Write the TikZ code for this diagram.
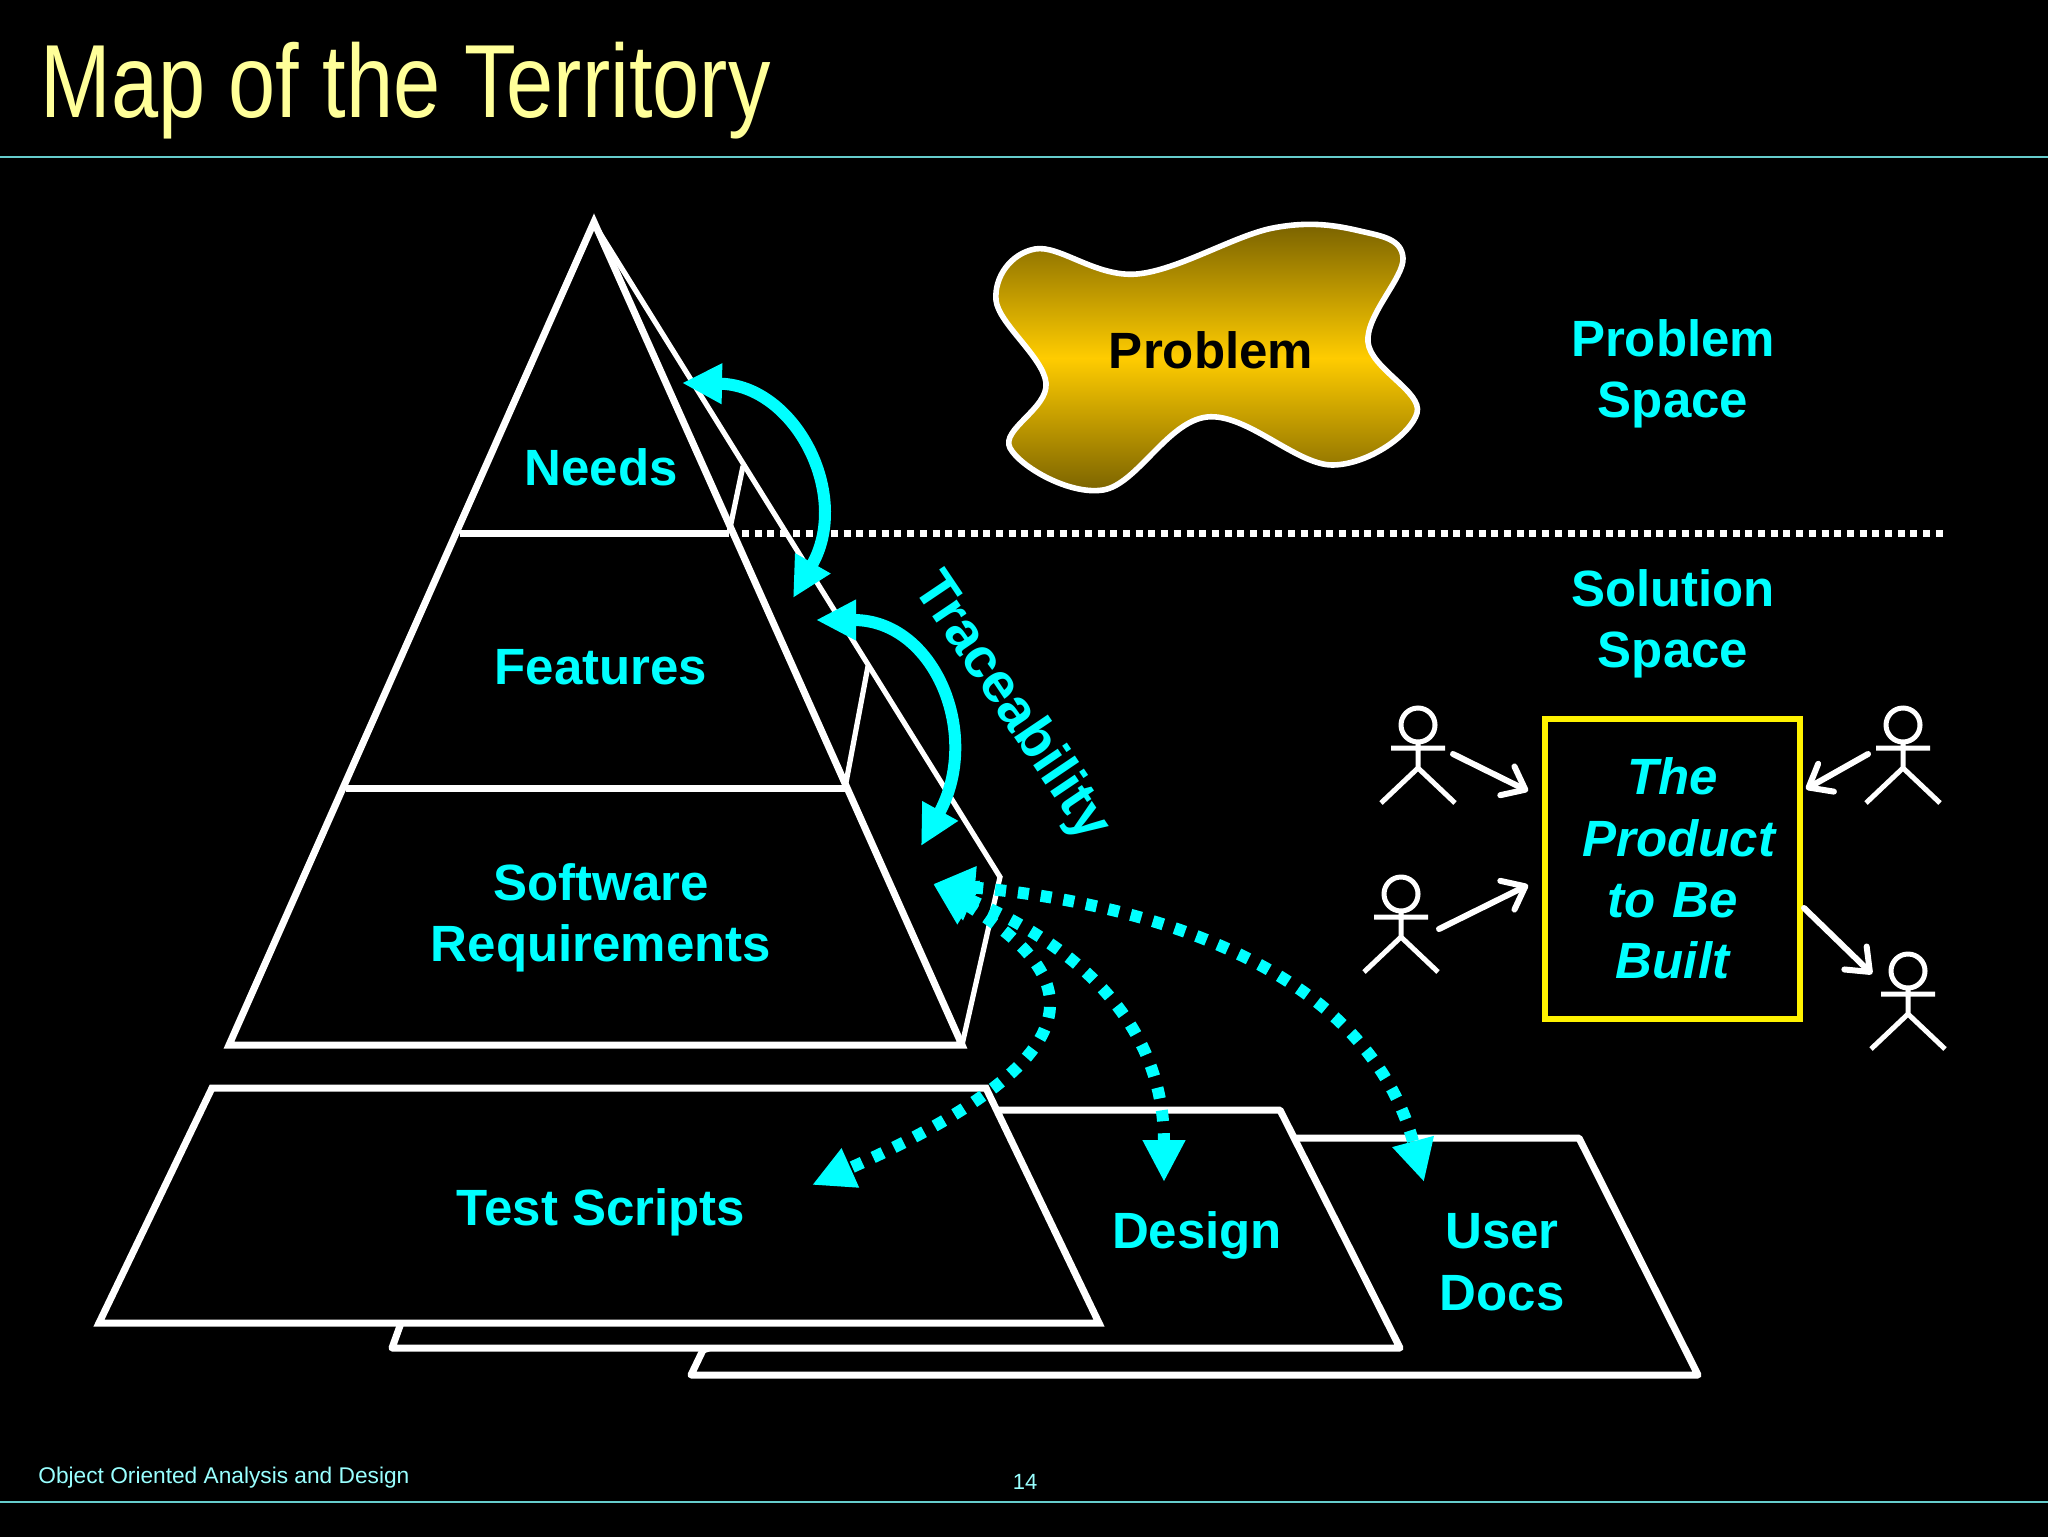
\documentclass[tikz,border=0pt]{standalone}
\usepackage{fontspec}
\setmainfont{Liberation Sans}
\newfontfamily\titlefont[FakeStretch=0.815]{Liberation Sans}
\usetikzlibrary{arrows.meta}
\definecolor{cy}{HTML}{00FFFF}
\definecolor{ttl}{HTML}{FFFF99}
\definecolor{rulec}{HTML}{66CCCC}
\definecolor{foot}{HTML}{99FFFF}
\definecolor{gold}{HTML}{FFCC00}
\definecolor{dgold}{HTML}{776000}
\tikzset{
  thick line/.style={draw=white,line width=3.5pt,line join=miter,fill=black},
  doc line/.style={draw=white,line width=3.5pt,line join=round,fill=black},
  thin line/.style={draw=white,line width=2.6pt,line join=miter},
  label/.style={text=cy,font=\fontsize{25.5}{30.7}\selectfont\bfseries,align=center,inner sep=0pt},
  trace/.style={draw=cy,line width=6pt,{Triangle[length=20pt,width=19pt]}-{Triangle[length=20pt,width=19pt]}},
  dep/.style={draw=cy,line width=6pt,dash pattern=on 5.5pt off 6pt,{Triangle[length=21pt,width=20pt]}-{Triangle[length=21pt,width=20pt]}},
  flow/.style={draw=white,line width=3pt,line cap=round,-{Straight Barb[length=10pt,width=16pt,round]}},
  stick/.pic={
    \draw[white,line width=2.5pt] (0,0) circle (17);
    \draw[white,line width=2.5pt] (-27,23) -- (27,23) (0,17) -- (0,43) (-37,78) -- (0,43) -- (37,78);
  }
}
\begin{document}
\begin{tikzpicture}[x=0.5pt,y=-0.5pt]
\useasboundingbox (0,0) rectangle (2048,1536);
\fill[black] (-10,-10) rectangle (2058,1546);

% header and footer
\node[anchor=base west,inner sep=0pt,text=ttl,font=\fontsize{52}{60}\titlefont] (title) at (40,118) {Map of the Territory};
\draw[rulec,line width=1pt] (0,157) -- (2048,157);
\draw[rulec,line width=1pt] (0,1502) -- (2048,1502);
\node[anchor=west,inner sep=0pt,text=foot,font=\fontsize{11.35}{13}\selectfont] (footer) at (38,1478) {Object Oriented Analysis and Design};
\node[inner sep=0pt,text=foot,font=\fontsize{11}{13}\selectfont] (pageno) at (1025,1482) {14};

% boundary
\coordinate (bl) at (742,533);
\coordinate (br) at (1948,533);
\draw[white,line width=3.5pt,dash pattern=on 3.5pt off 2.85pt] (bl) -- (br);

% pyramid
\draw[thin line] (593,222) -- (1000,877) -- (962,1045);
\draw[thin line] (729,533) -- (743,466);
\draw[thin line] (845,788) -- (868,666);
\draw[thick line,fill=none] (594,222) -- (962,1045) -- (229,1045) -- cycle;
\draw[thick line] (460,533) -- (729,533);
\draw[thick line] (346,788) -- (845,788);
\node[label] (needs) at (601,467) {Needs};
\node[label] (features) at (601,667) {Features};
\node[label] (softreq) at (601,918) {Software\\Requirements};

% documents
\draw[doc line] (703,1350) -- (691,1375) -- (1698,1375) -- (1579,1138) -- (1293,1138) -- cycle;
\draw[doc line] (401,1323) -- (392,1348) -- (1400,1348) -- (1280,1110) -- (990,1110) -- cycle;
\draw[thick line] (212,1088) -- (986,1088) -- (1099,1323) -- (99,1323) -- cycle;
\node[label] (tests) at (601,1212) {Test Scripts};
\node[label] (design) at (1197,1235) {Design};
\node[label] (docs) at (1502,1262) {User\\Docs};

% problem
\path[draw=white,line width=2.8pt,top color=dgold,bottom color=dgold,middle color=gold]
  plot[smooth cycle,tension=0.62] coordinates {(1035,249) (1137,274) (1273,228) (1360,231) (1403,258) (1368,342) (1417,413) (1333,465) (1207,417) (1103,490) (1010,448) (1046,383) (996,300)};
\node[label,text=black] (problem) at (1211,350) {Problem};
\node[label] (pspace) at (1673,374) {Problem\\Space};
\node[label] (sspace) at (1673,624) {Solution\\Space};

% traceability
\coordinate (t1a) at (682,383);
\coordinate (t1b) at (793,598);
\coordinate (t2a) at (816,620);
\coordinate (t2b) at (921,846);
\draw[trace] (t1a) .. controls (795,385) and (852,495) .. (t1b);
\draw[trace] (t2a) .. controls (935,620) and (982,735) .. (t2b);
\node[label,rotate=-56,font=\fontsize{28}{32}\selectfont\bfseries] (traceability) at (1011,707) {Traceability};

% dependencies
\coordinate (src) at (933,884);
\coordinate (dtest) at (812,1185);
\coordinate (ddesign) at (1164,1182);
\coordinate (ddocs) at (1424,1182);
\draw[dep] (src) .. controls (1080,975) and (1110,1052) .. (dtest);
\draw[dep] (src) .. controls (1040,930) and (1164,1000) .. (ddesign);
\draw[dep] (src) .. controls (1095,898) and (1360,945) .. (ddocs);

% product
\node[draw=yellow,line width=3pt,minimum width=127.5pt,minimum height=150pt,inner sep=0pt,
  text=cy,font=\fontsize{25.5}{30.7}\selectfont\bfseries\itshape,align=center,text width=90pt] (product) at (1672.5,868.5) {The\\Product\\to Be\\Built};

% actors
\pic (actorA) at (1418,725) {stick};
\pic (actorB) at (1903,725) {stick};
\pic (actorC) at (1401,894) {stick};
\pic (actorD) at (1908,971) {stick};
\coordinate (a1) at (1453,754); \coordinate (a2) at (1528,791);
\coordinate (b1) at (1868,754); \coordinate (b2) at (1806,789);
\coordinate (c1) at (1439,929); \coordinate (c2) at (1528,885);
\coordinate (d1) at (1804,908); \coordinate (d2) at (1872,974);
\draw[flow] (a1) -- (a2);
\draw[flow] (b1) -- (b2);
\draw[flow] (c1) -- (c2);
\draw[flow] (d1) -- (d2);
\end{tikzpicture}
\end{document}
